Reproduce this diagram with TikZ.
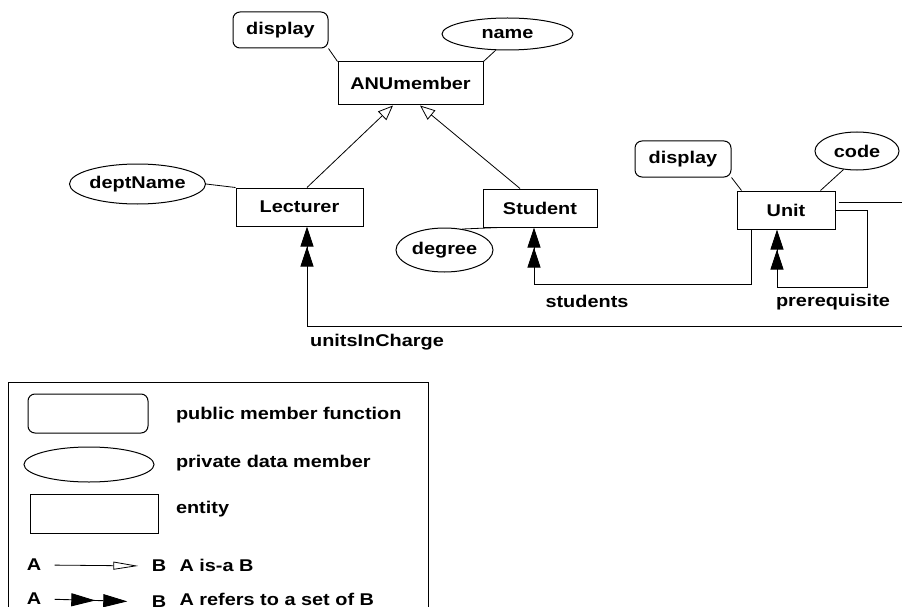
\documentclass[tikz,border=0pt]{standalone}
\usepackage{fontspec}
\setmainfont[FakeStretch=1.17]{Liberation Sans}
\usetikzlibrary{positioning}
\usetikzlibrary{arrows.meta,shapes.geometric}

\tikzset{
  entity/.style={draw,rectangle,line width=1pt,minimum height=38pt,inner sep=0pt},
  func/.style={draw,rectangle,rounded corners=7pt,line width=1pt,minimum height=36pt,inner sep=0pt},
  attr/.style={draw,ellipse,line width=1pt,inner sep=0pt},
  isa/.style={line width=0.8pt,-{Triangle[open,length=15pt,width=12pt]}},
  setof/.style={line width=0.9pt,-{Triangle[length=20pt,width=13pt]Triangle[length=20pt,width=13pt]}},
  link/.style={line width=0.8pt},
}

\begin{document}
\begin{tikzpicture}[x=1pt,y=-1pt,on grid,font=\fontsize{17}{20}\selectfont\bfseries]
		\useasboundingbox (0,0) rectangle (902,607);
		% entities and their members
		\node[entity,minimum width=145pt,minimum height=43pt] (anu) at (410.5,83.5) {ANUmember};
		\node[func,minimum width=95pt] (disp_a) [above left=53.5pt and 130pt of anu] {display};
		\node[attr,minimum width=131pt,minimum height=32pt] (name) [above right=49.5pt and 97pt of anu] {name};
		\node[entity,minimum width=127pt] (lect) [below left=123.5pt and 111pt of anu] {Lecturer};
		\node[entity,minimum width=114pt] (stud) [below right=124.5pt and 129.5pt of anu] {Student};
		\node[attr,minimum width=133pt,minimum height=40pt] (dept) [above left=23pt and 162pt of lect] {deptName};
		\node[attr,minimum width=97pt,minimum height=44pt] (degree) [below left=42pt and 95.5pt of stud] {degree};
		\node[entity,minimum width=98pt] (unit) [below right=2pt and 246pt of stud] {Unit};
		\node[func,minimum width=96pt] (disp_b) [above left=51pt and 103pt of unit] {display};
		\node[attr,minimum width=84pt,minimum height=38pt] (code) [above right=59pt and 71pt of unit] {code};
		
		\coordinate (s_bend) at (534,284);
		\coordinate (p_bend) at (867,287);
		\coordinate (edge_a) at (902,202);
		\coordinate (edge_b) at (902,326);
		\node (students) at (587,301) {students};
		\node (prereq) at (833,302) {prerequisite};
		\node (charge) at (377,342) {unitsInCharge};
		
		\draw[link] (disp_a.south east) -- (anu.north west);
		\draw[link] (name.-126) -- (anu.north east);
		\draw[link] (dept.east) -- (lect.north west);
		\draw[link] (degree.50) -- ([xshift=17pt]stud.south west);
		\draw[link] (disp_b.south east) -- ([xshift=5pt]unit.north west);
		\draw[link] (code.-126) -- ([xshift=-15pt]unit.north east);
		\draw[isa] ([xshift=7.5pt]lect.north) -- ([xshift=-17.5pt]anu.south);
		\draw[isa] ([xshift=-20pt]stud.north) -- ([xshift=9.5pt]anu.south);
		\draw[setof] ([xshift=15pt]unit.south west) |- (s_bend) -- (s_bend |- stud.south);
		\draw[setof] (unit.east) -| (p_bend) -| ([xshift=-9pt]unit.south);
		\draw[link] ([xshift=3pt,yshift=8pt]unit.east) -- (edge_a);
		\draw[setof] (edge_b) -| ([xshift=7.5pt]lect.south);
		
		% legend
		\draw[line width=1pt] (8,607) |- (428,382) -- (428,607);
		\node[func,minimum width=120pt,minimum height=39pt] (leg_f) at (88,413.5) {};
		\node[attr,minimum width=130pt,minimum height=35pt] (leg_e) at (89,464.5) {};
		\node[entity,minimum width=128pt,minimum height=39pt] (leg_r) at (94,513.5) {};
		\node[anchor=west] (leg_ft) at (172.5,415) {public member function};
		\node[anchor=west] (leg_et) at (172.5,463) {private data member};
		\node[anchor=west] (leg_rt) at (172.5,509) {entity};
		\node (a_1) at (34,565) {A};
		\node (b_1) at (159,566) {B};
		\node[anchor=west] (isa_t) at (176,565) {A is-a B};
		\node (a_2) at (34,599) {A};
		\node (b_2) at (159,602) {B};
		\node[anchor=west] (set_t) at (176,599) {A refers to a set of B};
		\draw[line width=0.8pt,shorten <=10pt,shorten >=10pt,-{Triangle[open,length=25pt,width=8pt]}] (a_1.east) -- (b_1.west);
		\draw[line width=0.9pt,shorten <=10pt,shorten >=21pt,-{Triangle[length=24pt,width=13pt,sep=8pt]Triangle[length=24pt,width=13pt]}] (a_2.east) -- (b_2.west);
	\end{tikzpicture}
\end{document}
